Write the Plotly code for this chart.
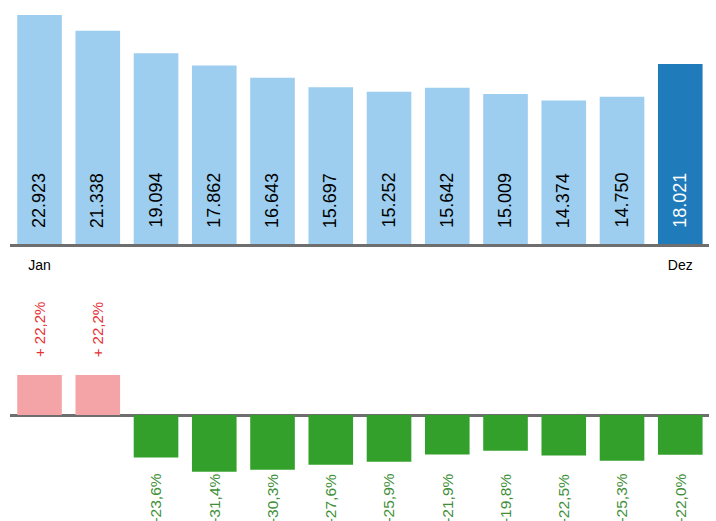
import plotly.graph_objects as go

months = ["Jan", "Feb", "Mär", "Apr", "Mai", "Jun", "Jul", "Aug", "Sep", "Okt", "Nov", "Dez"]
values = [22923, 21338, 19094, 17862, 16643, 15697, 15252, 15642, 15009, 14374, 14750, 18021]
value_labels = ["22.923", "21.338", "19.094", "17.862", "16.643", "15.697", "15.252", "15.642",
                "15.009", "14.374", "14.750", "18.021"]
changes = [22.2, 22.2, -23.6, -31.4, -30.3, -27.6, -25.9, -21.9, -19.8, -22.5, -25.3, -22.0]
change_labels = ["+ 22,2%", "+ 22,2%", "-23,6%", "-31,4%", "-30,3%", "-27,6%", "-25,9%",
                 "-21,9%", "-19,8%", "-22,5%", "-25,3%", "-22,0%"]
shown_ticks = ["Jan", "Dez"]

LIGHT = "#9DCEEF"
DARK = "#1F7BBA"
PINK = "#F4A4A7"
GREEN = "#33A02C"
RED_TXT = "#E53034"
GREEN_TXT = "#3F8F39"
FONT = "Liberation Sans, Arial, sans-serif"

top_colors = [DARK if m == "Dez" else LIGHT for m in months]
bottom_colors = [PINK if c > 0 else GREEN for c in changes]

fig = go.Figure()
fig.add_trace(go.Bar(x=months, y=values, marker=dict(color=top_colors, line=dict(width=0)),
                     xaxis="x", yaxis="y", hoverinfo="skip"))
fig.add_trace(go.Bar(x=months, y=changes, marker=dict(color=bottom_colors, line=dict(width=0)),
                     xaxis="x2", yaxis="y2", hoverinfo="skip"))

annotations = []
for m, lab in zip(months, value_labels):
    annotations.append(dict(x=m, y=0, xref="x", yref="y", text=lab, textangle=-90,
                            showarrow=False, yanchor="bottom", xanchor="center", yshift=14,
                            font=dict(family=FONT, size=18,
                                      color="white" if m == "Dez" else "black")))
for m, c, lab in zip(months, changes, change_labels):
    if c > 0:
        annotations.append(dict(x=m, y=31.0, xref="x2", yref="y2", text=lab, textangle=-90,
                                showarrow=False, yanchor="bottom", xanchor="center",
                                font=dict(family=FONT, size=15, color=RED_TXT)))
    else:
        annotations.append(dict(x=m, y=-31.6, xref="x2", yref="y2", text=lab, textangle=-90,
                                showarrow=False, yanchor="top", xanchor="center",
                                font=dict(family=FONT, size=15.5, color=GREEN_TXT)))

xdom = [10.4 / 716, 709.4 / 716]
fig.update_layout(
    width=716, height=521,
    margin=dict(l=0, r=0, t=0, b=0),
    paper_bgcolor="white", plot_bgcolor="white",
    showlegend=False,
    bargap=0.234,
    font=dict(family=FONT),
    xaxis=dict(domain=xdom, anchor="y", type="category", range=[-0.5, 11.5],
               tickmode="array", tickvals=shown_ticks, ticktext=shown_ticks,
               ticks="", ticklabelstandoff=6, showgrid=False, zeroline=False,
               tickfont=dict(family=FONT, size=14, color="black"),
               showline=True, linecolor="#6E6E6E", linewidth=2.5),
    yaxis=dict(domain=[1 - 244 / 521, 1 - 4.24 / 521], range=[0, 24000],
               visible=False, showgrid=False, zeroline=False),
    xaxis2=dict(domain=xdom, anchor="y2", type="category", range=[-0.5, 11.5],
                showticklabels=False, ticks="", showgrid=False, zeroline=False, showline=False),
    yaxis2=dict(domain=[1 - 505.25 / 521, 1 - 342.8 / 521], range=[-50, 40],
                visible=True, showticklabels=False, ticks="", showgrid=False, showline=False,
                zeroline=True, zerolinecolor="#6E6E6E", zerolinewidth=2.5),
    annotations=annotations,
)

fig.write_html("out.html", config={"displayModeBar": False},
               post_script="document.body.style.margin='0';document.body.style.overflow='hidden';")
